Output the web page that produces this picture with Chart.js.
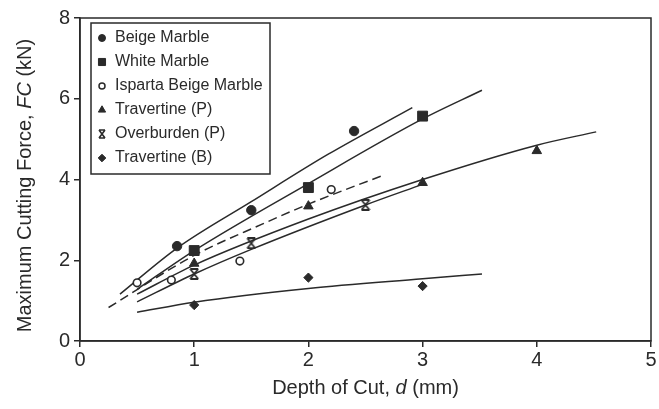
<!DOCTYPE html>
<html>
<head>
<meta charset="utf-8">
<script src="https://cdn.jsdelivr.net/npm/chart.js@4/dist/chart.umd.min.js"></script>
<style>
  html, body { margin: 0; padding: 0; background: #fff; }
  #wrap { width: 659px; height: 409px; }
</style>
</head>
<body>
<div id="wrap"><canvas id="cutChart" width="659" height="409"></canvas></div>
<script>
// measured points
const beigeX = [0.85, 1.5, 2.4];
const beigeY = [2.35, 3.24, 5.2];
const whiteX = [1.0, 2.0, 3.0];
const whiteY = [2.24, 3.8, 5.57];
const ispartaX = [0.5, 0.8, 1.4, 2.2];
const ispartaY = [1.44, 1.51, 1.98, 3.75];
const travPX = [1.0, 2.0, 3.0, 4.0];
const travPY = [1.92, 3.34, 3.92, 4.71];
const overX = [1.0, 1.5, 2.5];
const overY = [1.66, 2.42, 3.37];
const travBX = [1.0, 2.0, 3.0];
const travBY = [0.89, 1.57, 1.36];

// fitted curves
const beigeFitX = [0.35, 0.85, 1.5, 2.17, 2.91];
const beigeFitY = [1.16, 2.3, 3.45, 4.62, 5.78];
const whiteFitX = [0.5, 1.0, 2.0, 3.0, 3.52];
const whiteFitY = [1.28, 2.24, 3.9, 5.5, 6.21];
const ispartaFitX = [0.25, 1.0, 1.6, 2.0, 2.66];
const ispartaFitY = [0.83, 2.12, 2.9, 3.39, 4.11];
const travPFitX = [0.5, 1.0, 2.0, 3.0, 4.0, 4.52];
const travPFitY = [1.16, 1.88, 3.02, 4.0, 4.85, 5.18];
const overFitX = [0.5, 1.0, 1.5, 2.5, 3.0];
const overFitY = [0.97, 1.66, 2.27, 3.37, 3.88];
const travBFitX = [0.5, 1.0, 2.0, 3.0, 3.52];
const travBFitY = [0.71, 0.96, 1.30, 1.54, 1.66];

const xTicks = [0, 1, 2, 3, 4, 5];
const yTicks = [0, 2, 4, 6, 8];

const ink = '#2a2a2a';
const pts = (xs, ys) => xs.map((x, i) => ({ x: x, y: ys[i] }));

// hourglass-like x marker used for Overburden (P)
function starMark(h, lw) {
    const cv = document.createElement('canvas');
    const w = Math.round(h * 0.8);
    cv.width = w; cv.height = h;
    const g = cv.getContext('2d');
    g.strokeStyle = ink;
    g.lineWidth = lw;
    g.beginPath();
    g.moveTo(1, 1); g.lineTo(w - 1, h - 1);
    g.moveTo(w - 1, 1); g.lineTo(1, h - 1);
    g.moveTo(1, 1); g.lineTo(w - 1, 1);
    g.moveTo(1, h - 1); g.lineTo(w - 1, h - 1);
    g.stroke();
    return cv;
}
const starBig = starMark(12, 1.8);
const starSmall = starMark(10, 1.6);

// legend entries: label, pointStyle, radius, filled
const legendItems = [
    ['Beige Marble', 'circle', 3.5, true],
    ['White Marble', 'rect', 5, true],
    ['Isparta Beige Marble', 'circle', 3, false],
    ['Travertine (P)', 'triangle', 4.2, true],
    ['Overburden (P)', starSmall, 4, false],
    ['Travertine (B)', 'rectRot', 3.8, true]
];

function marks(label, xs, ys, style, r, filled) {
    return {
        label: label,
        data: pts(xs, ys),
        showLine: false,
        pointStyle: style,
        pointRadius: r,
        pointBorderWidth: filled ? 1 : 1.6,
        pointBackgroundColor: filled ? ink : '#fff',
        pointBorderColor: ink,
        order: 0
    };
}

function fit(xs, ys, dash) {
    return {
        data: pts(xs, ys),
        showLine: true,
        pointRadius: 0,
        borderColor: ink,
        borderWidth: 1.5,
        borderDash: dash || [],
        tension: 0.4,
        cubicInterpolationMode: 'monotone',
        order: 1
    };
}

// frame, legend box and axis titles
const decor = {
    id: 'decor',
    afterDraw(chart) {
        const c = chart.ctx;
        const a = chart.chartArea;
        c.save();
        c.strokeStyle = ink;
        c.lineWidth = 1.5;
        c.strokeRect(a.left, a.top, a.right - a.left, a.bottom - a.top);

        // legend
        const lx = a.left + 11, ly = a.top + 5;
        c.strokeRect(lx, ly, 179, 151);
        c.font = '16px "Liberation Sans", Arial, sans-serif';
        c.textBaseline = 'middle';
        legendItems.forEach((it, i) => {
            const y = ly + 15 + i * 24;
            c.fillStyle = it[3] ? ink : '#fff';
            c.strokeStyle = ink;
            c.lineWidth = it[3] ? 1 : 1.5;
            Chart.helpers.drawPoint(c, {
                pointStyle: it[1], radius: it[2], rotation: 0,
                borderWidth: it[3] ? 1 : 1.5
            }, lx + 11, y);
            c.fillStyle = ink;
            c.fillText(it[0], lx + 24, y);
        });

        // axis titles with italic symbols
        const drawParts = (parts, x, y) => {
            let w = 0;
            parts.forEach(p => { c.font = p[1]; w += c.measureText(p[0]).width; });
            let cx = x - w / 2;
            parts.forEach(p => {
                c.font = p[1];
                c.fillText(p[0], cx, y);
                cx += c.measureText(p[0]).width;
            });
        };
        const reg = '20px "Liberation Sans", Arial, sans-serif';
        const ita = 'italic 20px "Liberation Sans", Arial, sans-serif';
        c.fillStyle = ink;
        c.textBaseline = 'middle';
        drawParts([['Depth of Cut, ', reg], ['d', ita], [' (mm)', reg]], (a.left + a.right) / 2, 388);
        c.translate(25, (a.top + a.bottom) / 2 + 6);
        c.rotate(-Math.PI / 2);
        drawParts([['Maximum Cutting Force, ', reg], ['FC', ita], [' (kN)', reg]], 0, 0);
        c.restore();
    }
};

const ctx = document.getElementById('cutChart').getContext('2d');
const cutChart = new Chart(ctx, {
    type: 'scatter',
    data: {
        datasets: [
            marks('Beige Marble', beigeX, beigeY, 'circle', 4.7, true),
            marks('White Marble', whiteX, whiteY, 'rect', 7, true),
            marks('Isparta Beige Marble', ispartaX, ispartaY, 'circle', 3.8, false),
            marks('Travertine (P)', travPX, travPY, 'triangle', 5.5, true),
            marks('Overburden (P)', overX, overY, starBig, 5, false),
            marks('Travertine (B)', travBX, travBY, 'rectRot', 4.6, true),
            fit(beigeFitX, beigeFitY),
            fit(whiteFitX, whiteFitY),
            fit(ispartaFitX, ispartaFitY, [9, 5]),
            fit(travPFitX, travPFitY),
            fit(overFitX, overFitY),
            fit(travBFitX, travBFitY)
        ]
    },
    options: {
        responsive: false,
        animation: false,
        layout: { padding: { top: 18, right: 1, left: 0, bottom: 0 } },
        plugins: {
            legend: { display: false },
            tooltip: { enabled: false }
        },
        scales: {
            x: {
                type: 'linear',
                min: 0, max: 5,
                afterBuildTicks: s => { s.ticks = xTicks.map(v => ({ value: v })); },
                afterFit: s => { s.height = 68; s.paddingLeft = 0; s.paddingRight = 0; },
                grid: { drawOnChartArea: false, tickLength: 6, color: ink, lineWidth: 1.5 },
                border: { color: ink, width: 1.5 },
                ticks: {
                    color: ink,
                    padding: 1,
                    maxRotation: 0,
                    font: { family: '"Liberation Sans", Arial, sans-serif', size: 20 }
                }
            },
            y: {
                type: 'linear',
                min: 0, max: 8,
                afterBuildTicks: s => { s.ticks = yTicks.map(v => ({ value: v })); },
                afterFit: s => { s.width = 80; },
                grid: { drawOnChartArea: false, tickLength: 6, color: ink, lineWidth: 1.5 },
                border: { color: ink, width: 1.5 },
                ticks: {
                    color: ink,
                    padding: 4,
                    font: { family: '"Liberation Sans", Arial, sans-serif', size: 20 }
                }
            }
        }
    },
    plugins: [decor]
});
</script>
</body>
</html>
